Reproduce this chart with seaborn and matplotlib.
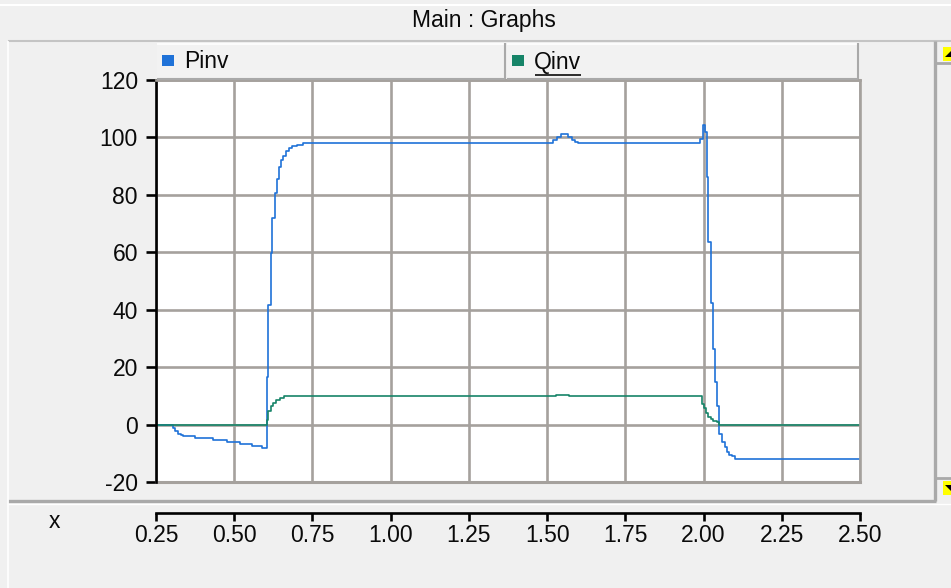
import matplotlib
matplotlib.use("Agg")
import matplotlib.pyplot as plt
from matplotlib import font_manager
from matplotlib.patches import Rectangle, Polygon
from matplotlib.lines import Line2D
import numpy as np
import pandas as pd
import seaborn as sns

# ---------------- data ----------------
series_names = ["Pinv", "Qinv"]
series_colors = ["#1f72d8", "#168468"]

pinv_t = [0.25, 0.303, 0.311, 0.320, 0.330, 0.337, 0.375, 0.433, 0.476, 0.518,
          0.556, 0.588, 0.604, 0.609, 0.617, 0.622, 0.630, 0.636, 0.643, 0.649,
          0.657, 0.665, 0.675, 0.685, 0.700, 0.720, 1.520, 1.532, 1.543, 1.568,
          1.578, 1.589, 1.600, 1.989, 1.997, 2.005, 2.010, 2.015, 2.023, 2.029,
          2.037, 2.042, 2.049, 2.060, 2.067, 2.074, 2.082, 2.090, 2.100, 2.500]
pinv_v = [0.0, -1.1, -2.3, -3.2, -3.7, -3.9, -4.6, -5.3, -6.0, -6.7,
          -7.6, -8.3, 16.5, 41.5, 59.6, 72.0, 80.6, 85.6, 89.7, 92.2,
          93.7, 95.1, 96.2, 96.9, 97.4, 98.0, 99.0, 100.1, 101.3, 100.3,
          99.2, 98.4, 97.9, 99.5, 104.2, 101.9, 86.2, 63.5, 42.3, 26.4,
          14.7, 6.6, -3.2, -6.2, -7.9, -9.4, -10.5, -11.1, -12.0, -12.0]

qinv_t = [0.25, 0.604, 0.607, 0.617, 0.625, 0.633, 0.646, 0.660, 1.530, 1.570,
          1.994, 2.001, 2.008, 2.015, 2.023, 2.031, 2.042, 2.050, 2.500]
qinv_v = [0.0, 1.7, 4.6, 6.3, 7.4, 8.6, 9.3, 9.8, 10.3, 9.8,
          7.2, 5.8, 3.9, 2.8, 2.0, 1.4, 0.8, 0.0, 0.0]

x_ticks = [0.25, 0.50, 0.75, 1.00, 1.25, 1.50, 1.75, 2.00, 2.25, 2.50]
x_tick_labels = ["0.25", "0.50", "0.75", "1.00", "1.25", "1.50", "1.75", "2.00", "2.25", "2.50"]
y_ticks = [-20, 0, 20, 40, 60, 80, 100, 120]
y_tick_labels = ["-20", "0", "20", "40", "60", "80", "100", "120"]
title_text = "Main : Graphs"
x_label = "x"

df = pd.concat([
    pd.DataFrame({"t": pinv_t, "v": pinv_v, "series": "Pinv"}),
    pd.DataFrame({"t": qinv_t, "v": qinv_v, "series": "Qinv"}),
], ignore_index=True)

# ---------------- fonts ----------------
names = {f.name for f in font_manager.fontManager.ttflist}
FONT = "Liberation Sans Narrow" if "Liberation Sans Narrow" in names else "Liberation Sans"
plt.rcParams["font.family"] = [FONT, "DejaVu Sans"]
FS = 19 if FONT == "Liberation Sans Narrow" else 16.5
TXT = "#0a0a0a"

W, H = 951, 588
BG = "#f0f0f0"
GRID = "#a5a19d"

fig = plt.figure(figsize=(W / 100, H / 100), dpi=100, facecolor=BG)

def fx(x):
    return x / W

def fy(y):
    return 1 - y / H

def hline(x0, x1, y, color, lw):
    fig.add_artist(Line2D([fx(x0), fx(x1)], [fy(y), fy(y)], color=color, lw=lw,
                          transform=fig.transFigure, solid_capstyle="butt"))

def vline(x, y0, y1, color, lw):
    fig.add_artist(Line2D([fx(x), fx(x)], [fy(y0), fy(y1)], color=color, lw=lw,
                          transform=fig.transFigure, solid_capstyle="butt"))

# window chrome
hline(0, W, 5, "white", 1.5)
fig.text(fx(484), fy(21), title_text, ha="center", va="center", fontsize=FS, color=TXT)
hline(8, W, 41, "#c4c4c4", 1.5)
hline(8, 936, 501, "#a9a9a9", 2.4)
hline(8, W, 503.5, "white", 1.0)
vline(8, 41, 588, "white", 1.2)
vline(935, 41, 501, "#a9a9a9", 2.4)
hline(936, W, 63, "#a9a9a9", 2.0)
hline(936, W, 478, "#a9a9a9", 2.0)
for (ytop, up) in [(47, True), (481, False)]:
    fig.add_artist(Rectangle((fx(943), fy(ytop + 14)), fx(8), 14 / H, transform=fig.transFigure,
                             facecolor="#ffff00", edgecolor="none"))
    if up:
        pts = [(945, ytop + 10), (951, ytop + 10), (951, ytop + 4)]
    else:
        pts = [(945, ytop + 4), (951, ytop + 4), (951, ytop + 10)]
    fig.add_artist(Polygon([(fx(a), fy(b)) for a, b in pts], closed=True,
                           transform=fig.transFigure, facecolor="black", edgecolor="none"))

# legend boxes
leg_boxes = [(157, 505), (507, 858)]
for (x0, x1), name, col in zip(leg_boxes, series_names, series_colors):
    fig.add_artist(Rectangle((fx(x0), fy(79)), fx(x1 - x0), 36 / H, transform=fig.transFigure,
                             facecolor="#f2f2f2", edgecolor="none"))
    hline(x0, x1, 43.5, "white", 1.2)
    hline(x0, x1, 78.5, "#a9a9a9", 1.5)
    vline(x1, 43, 79, "#a9a9a9", 1.5)
    fig.add_artist(Rectangle((fx(x0 + 5), fy(66)), fx(12), 11 / H, transform=fig.transFigure,
                             facecolor=col, edgecolor="none"))
    fig.text(fx(x0 + 27), fy(62), name, ha="left", va="center", fontsize=FS, color=TXT)
    if name == "Qinv":
        hline(x0 + 28, x0 + 28 + 46, 75, TXT, 1.2)

# ---------------- plot ----------------
ax = fig.add_axes([fx(156), fy(482), 704 / W, 402 / H])
ax.set_facecolor("white")
sns.lineplot(data=df, x="t", y="v", hue="series", palette=series_colors,
             hue_order=series_names, drawstyle="steps-post", estimator=None,
             legend=False, lw=1.2, ax=ax)

ax.set_xlim(0.25, 2.5)
ax.set_ylim(-20, 120)
ax.set_xticks(x_ticks)
ax.set_xticklabels(x_tick_labels)
ax.set_yticks(y_ticks)
ax.set_yticklabels(y_tick_labels)
ax.set_xlabel("")
ax.set_ylabel("")
ax.grid(True, color=GRID, lw=1.9)
ax.set_axisbelow(True)
ax.axhline(-20, color=GRID, lw=2.2, clip_on=False, zorder=0.6)
ax.axhline(120, color=GRID, lw=1.5, clip_on=False, zorder=0.6)

for s in ["top", "right"]:
    ax.spines[s].set_color(GRID)
    ax.spines[s].set_linewidth(1.9)
ax.spines["left"].set_color("black")
ax.spines["left"].set_linewidth(1.9)
ax.spines["bottom"].set_color("black")
ax.spines["bottom"].set_linewidth(1.9)
ax.spines["bottom"].set_position(("outward", 22))

ax.tick_params(axis="y", length=7, width=1.9, color="black", pad=6,
               labelsize=FS, labelcolor=TXT)
ax.tick_params(axis="x", length=6, width=1.9, color="black", pad=2,
               labelsize=FS, labelcolor=TXT)

fig.text(fx(54), fy(521), x_label, ha="center", va="center", fontsize=FS, color=TXT)

fig.savefig("out.png", dpi=100, facecolor=BG)
